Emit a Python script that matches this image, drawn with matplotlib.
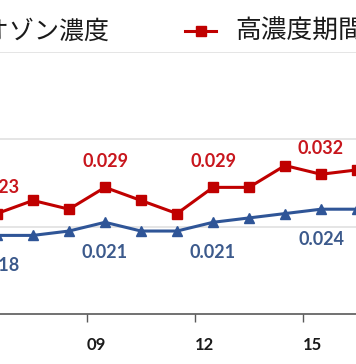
import matplotlib.pyplot as plt
from matplotlib.lines import Line2D

plt.rcParams['font.family'] = ['Noto Sans CJK JP', 'DejaVu Sans']

# fiscal years 06..16 (index 0..10)
idx = list(range(11))
ozone = [0.018, 0.018, 0.019, 0.021, 0.019, 0.019, 0.021, 0.022, 0.023, 0.024, 0.024]
high = [0.023, 0.026, 0.024, 0.029, 0.026, 0.023, 0.029, 0.029, 0.034, 0.032, 0.033]
lab_idx = [0, 3, 6, 9]
tick_pos = [2.5, 5.5, 8.5]
tick_labels = ['09', '12', '15']

red = '#C00000'
blue = '#2F5597'

fig = plt.figure(figsize=(3.56, 3.64), dpi=100)
ax = fig.add_axes([0, 1 - 314 / 364, 1, (314 - 52) / 364])

ax.plot(idx, ozone, color=blue, lw=2.2, marker='^', ms=7.5, zorder=3)
ax.plot(idx, high, color=red, lw=2.2, marker='s', ms=6.5, zorder=3)

for i in lab_idx:
    ax.annotate(f'{high[i]:.3f}', (i, high[i]), xytext=(0, 18.5), textcoords='offset points',
                ha='center', va='center', color='#C8161D', fontsize=13,
                fontweight='bold', family='Lato', annotation_clip=False)
    ax.annotate(f'{ozone[i]:.3f}', (i, ozone[i]), xytext=(0, -21.5), textcoords='offset points',
                ha='center', va='center', color='#3C5A8C', fontsize=13,
                fontweight='bold', family='Lato', annotation_clip=False)

ax.set_xlim(3 / 36, 359 / 36)
ax.set_ylim(0, 0.06)
ax.set_yticks([0.02, 0.04, 0.06])
ax.yaxis.grid(True, color='#E0E0E0', lw=1.2)
ax.tick_params(axis='y', length=0, labelleft=False)
ax.set_axisbelow(True)

ax.set_xticks(tick_pos)
ax.set_xticklabels([])
ax.tick_params(axis='x', length=6, width=1, color='#595959', direction='out')
for p, t in zip(tick_pos, tick_labels):
    ax.text(p + 0.25, -0.0072, t, ha='center', va='center', fontsize=12,
            fontweight='bold', family='Lato', color='#1A1A1A')

for s in ['top', 'left', 'right']:
    ax.spines[s].set_visible(False)
ax.spines['bottom'].set_color('#595959')
ax.spines['bottom'].set_linewidth(1.2)

# legend (cropped on both sides, as in the source image)
fig.text(110 / 356, 1 - 32 / 364, '年平均オゾン濃度', ha='right', va='center', fontsize=18, color='#1A1A1A')
fig.add_artist(Line2D([185 / 356, 216 / 356], [1 - 31 / 364] * 2, transform=fig.transFigure,
                      color=red, lw=2.2))
fig.add_artist(Line2D([201 / 356], [1 - 31 / 364], transform=fig.transFigure,
                      color=red, marker='s', ms=7, lw=0))
fig.text(235 / 356, 1 - 32 / 364, '高濃度期間平均', ha='left', va='center', fontsize=18.5, color='#1A1A1A')

fig.savefig('out.png', dpi=100)
